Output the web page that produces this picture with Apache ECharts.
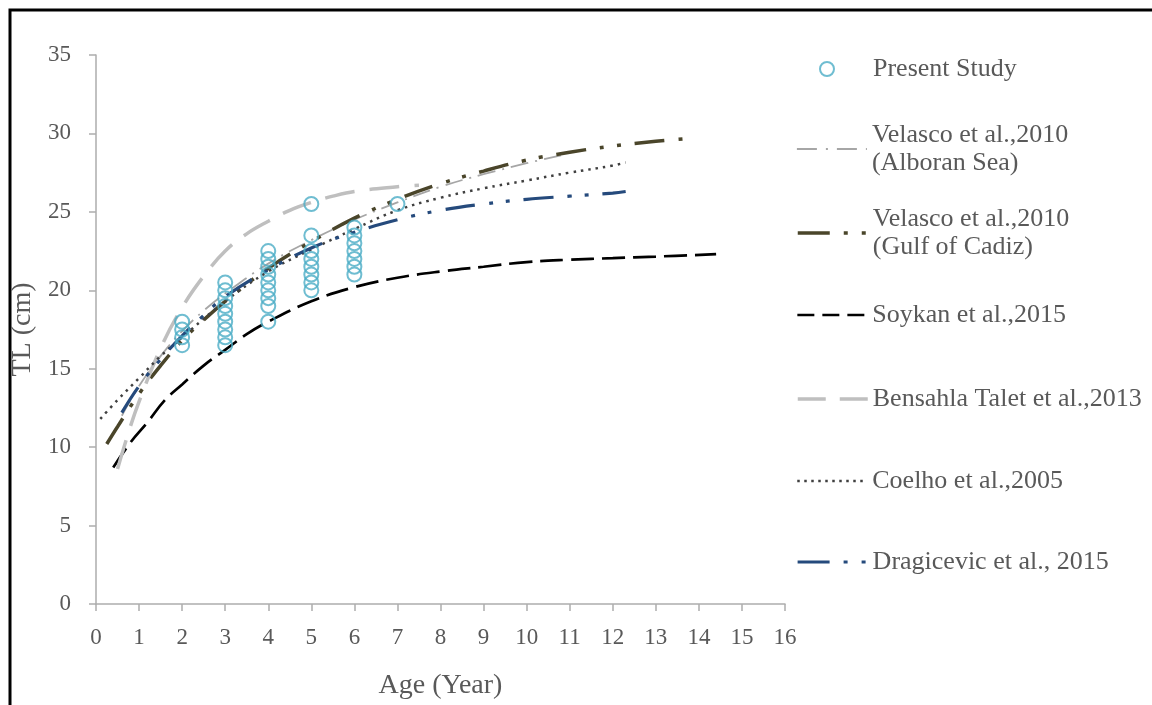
<!DOCTYPE html>
<html>
<head>
<meta charset="utf-8">
<script src="https://cdn.jsdelivr.net/npm/echarts@6/dist/echarts.min.js"></script>
<style>html,body{margin:0;padding:0;background:#fff;}#chart{width:1152px;height:705px;}</style>
</head>
<body>
<div id="chart"></div>
<script>
// ---- Data ----
const presentAge = [2,2,2,2, 3,3,3,3,3,3,3,3,3, 4,4,4,4,4,4,4,4,4, 5,5,5,5,5,5,5,5, 6,6,6,6,6,6,6, 7];
const presentTL  = [16.5,17,17.5,18, 16.5,17,17.5,18,18.5,19,19.5,20,20.5, 18,19,19.5,20,20.5,21,21.5,22,22.5, 20,20.5,21,21.5,22,22.5,23.5,25.5, 21,21.5,22,22.5,23,23.5,24, 25.5];

const alboranAge = [0.6,1,1.5,2,2.5,3,4,5,6,7,8,9,10,10.8];
const alboranTL  = [12.0,13.9,15.8,17.4,18.7,19.8,21.7,23.2,24.5,25.6,26.6,27.4,28.1,28.6];

const cadizAge = [0.25,0.5,1,1.5,2,2.5,3,4,5,6,7,8,9,10,11,12,13,13.9];
const cadizTL  = [10.2,11.3,13.4,15.2,16.8,18.1,19.3,21.4,23.1,24.6,25.8,26.8,27.6,28.3,28.8,29.2,29.5,29.7];

const soykanAge = [0.4,0.8,1.2,1.6,2,2.5,3,3.5,4,5,6,7,8,9,10,11,12,13,14.4];
const soykanTL  = [8.7,10.3,11.6,13.0,14.0,15.2,16.2,17.2,18.0,19.3,20.2,20.8,21.2,21.5,21.8,21.95,22.05,22.15,22.3];

const bensahlaAge = [0.5,0.75,1,1.5,2,2.5,3,3.5,4,4.5,5,5.5,6,7,7.5];
const bensahlaTL  = [8.6,10.9,12.9,16.3,18.9,20.9,22.5,23.6,24.4,25.1,25.6,26.0,26.3,26.6,26.7];

const coelhoAge = [0.1,0.5,1,1.5,2,3,4,5,6,7,8,9,10,11,12,12.3];
const coelhoTL  = [11.8,13.0,14.4,15.8,17.0,19.3,21.2,22.6,23.9,25.1,25.9,26.5,27.0,27.5,27.95,28.15];

const dragAge = [0.6,1,1.5,2,2.5,3,4,5,6,7,8,9,10,11,12,12.3];
const dragTL  = [12.2,13.9,15.6,17.1,18.4,19.6,21.3,22.7,23.7,24.5,25.1,25.5,25.8,26.0,26.2,26.3];

const seriesNames = [
  'Present Study',
  'Velasco et al.,2010\n(Alboran Sea)',
  'Velasco et al.,2010\n(Gulf of Cadiz)',
  'Soykan et al.,2015',
  'Bensahla Talet et al.,2013',
  'Coelho et al.,2005',
  'Dragicevic et al., 2015'
];

const xAxisName = 'Age (Year)';
const yAxisName = 'TL (cm)';

// ---- helpers ----
const zip = (a, b) => a.map((v, i) => [v, b[i]]);
const FONT = "'Liberation Serif', 'Times New Roman', serif";
const TXT = '#595959';
const LEG_FS = 26;

const styles = {
  alboran:  { color: '#a6a6a6', width: 1.8, type: [18, 7, 2, 7] },
  cadiz:    { color: '#4a452a', width: 3.5, type: [30, 14, 4, 13, 4, 14] },
  soykan:   { color: '#000000', width: 2.7, type: [23, 8] },
  bensahla: { color: '#bfbfbf', width: 3.5, type: [30, 15] },
  coelho:   { color: '#404040', width: 2.5, type: [2.5, 5] },
  drag:     { color: '#254a7c', width: 3.2, type: [30, 14, 4, 13, 4, 14] }
};

function lineSeries(name, ages, tls, st) {
  return {
    type: 'line', name: name, data: zip(ages, tls), smooth: 0.4,
    symbol: 'none', showSymbol: false,
    lineStyle: { color: st.color, width: st.width, type: st.type, cap: 'butt' },
    itemStyle: { color: st.color },
    z: 2
  };
}

const chart = echarts.init(document.getElementById('chart'), null, { renderer: 'canvas' });

function legendItem(name, top, twoLines, st, legType) {
  return {
    data: [name], orient: 'vertical', left: 796, top: top, padding: 0,
    itemWidth: 70, itemHeight: 14, selectedMode: false,
    itemStyle: { color: 'rgba(0,0,0,0)', borderColor: 'rgba(0,0,0,0)', borderWidth: 0, opacity: 0 },
    lineStyle: { color: st.color, width: st.width, type: legType || st.type, cap: 'butt' },
    textStyle: { fontFamily: FONT, fontSize: LEG_FS, color: TXT, lineHeight: 28,
                 padding: twoLines ? [28, 0, 0, 0] : 0 }
  };
}

const option = {
  animation: false,
  backgroundColor: '#fff',
  grid: { left: 96, right: 367, top: 55, bottom: 100, containLabel: false },
  xAxis: {
    type: 'value', min: 0, max: 16, interval: 1,
    name: xAxisName, nameLocation: 'middle', nameGap: 68,
    nameTextStyle: { fontFamily: FONT, fontSize: 28, color: TXT },
    axisLine: { show: true, lineStyle: { color: '#adadad', width: 1.5 } },
    axisTick: { show: true, length: 7, lineStyle: { color: '#adadad', width: 1.5 } },
    axisLabel: { fontFamily: FONT, fontSize: 23, color: TXT, margin: 22 },
    splitLine: { show: false }
  },
  yAxis: {
    type: 'value', min: 0, max: 35, interval: 5,
    name: yAxisName, nameLocation: 'middle', nameGap: 58, nameRotate: 90,
    nameTextStyle: { fontFamily: FONT, fontSize: 28, color: TXT },
    axisLine: { show: true, lineStyle: { color: '#adadad', width: 1.5 } },
    axisTick: { show: true, length: 7, lineStyle: { color: '#adadad', width: 1.5 } },
    axisLabel: { fontFamily: FONT, fontSize: 23, color: TXT, margin: 25 },
    splitLine: { show: false }
  },
  legend: [
    {
      data: [seriesNames[0]], orient: 'vertical', left: 819, top: 55, padding: 0,
      itemWidth: 14, itemHeight: 14, selectedMode: false,
      itemStyle: { color: 'rgba(0,0,0,0)', borderColor: '#4bacc6', borderWidth: 2 },
      textStyle: { fontFamily: FONT, fontSize: LEG_FS, color: TXT, lineHeight: 28, padding: [0, 0, 0, 34] }
    },
    legendItem(seriesNames[1], 107, true, styles.alboran, [20, 9, 2, 9]),
    legendItem(seriesNames[2], 191, true, styles.cadiz, [32, 14, 4, 14, 4, 40]),
    legendItem(seriesNames[3], 301, false, styles.soykan, [17, 8]),
    legendItem(seriesNames[4], 385, false, styles.bensahla, [28, 14]),
    legendItem(seriesNames[5], 467, false, styles.coelho, [2.5, 4.5]),
    legendItem(seriesNames[6], 548, false, styles.drag, [32, 14, 4, 14, 4, 40])
  ],
  graphic: [{
    type: 'rect', silent: true,
    shape: { x: 10, y: 10, width: 1160, height: 720 },
    style: { fill: 'none', stroke: '#000', lineWidth: 3 }
  }],
  series: [
    {
      type: 'scatter', name: seriesNames[0], data: zip(presentAge, presentTL),
      symbol: 'circle', symbolSize: 14,
      itemStyle: { color: 'rgba(0,0,0,0)', borderColor: '#4bacc6', borderWidth: 2 },
      z: 3
    },
    lineSeries(seriesNames[1], alboranAge, alboranTL, styles.alboran),
    lineSeries(seriesNames[2], cadizAge, cadizTL, styles.cadiz),
    lineSeries(seriesNames[3], soykanAge, soykanTL, styles.soykan),
    lineSeries(seriesNames[4], bensahlaAge, bensahlaTL, styles.bensahla),
    lineSeries(seriesNames[5], coelhoAge, coelhoTL, styles.coelho),
    lineSeries(seriesNames[6], dragAge, dragTL, styles.drag)
  ]
};
chart.setOption(option);
</script>
</body>
</html>
